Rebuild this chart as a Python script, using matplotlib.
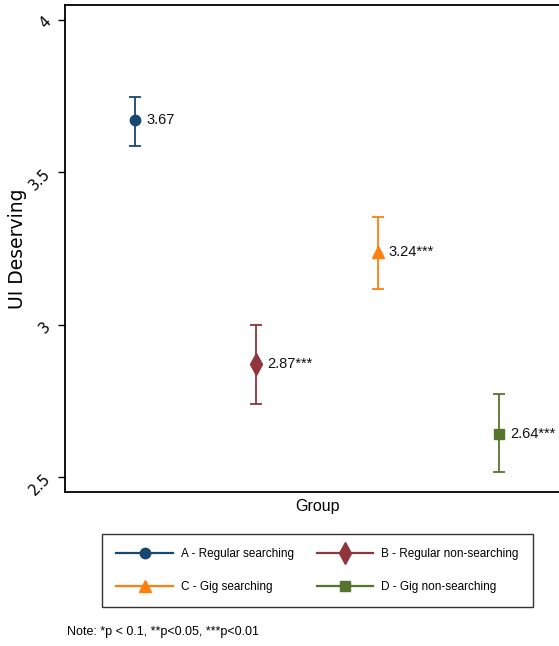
import matplotlib
matplotlib.use("Agg")
import matplotlib.pyplot as plt
from matplotlib.lines import Line2D

# group estimates with 95% confidence bounds
groups = ["A - Regular searching", "B - Regular non-searching",
          "C - Gig searching", "D - Gig non-searching"]
means = [3.67, 2.87, 3.24, 2.64]
ci_low = [3.585, 2.74, 3.118, 2.516]
ci_high = [3.748, 3.0, 3.353, 2.772]
stars = ["", "***", "***", "***"]
yticks = [2.5, 3, 3.5, 4]

colors = ["#1a476f", "#90353b", "#ff7f0e", "#55752f"]
markers = ["o", "d", "^", "s"]
msizes = [7.5, 11, 9, 7]

plt.rcParams["font.family"] = ["Liberation Sans", "DejaVu Sans"]

fig = plt.figure(figsize=(5.59, 6.46), dpi=100)
ax = fig.add_axes([0.1163, 0.2384, 0.9016, 0.7539])

for i, (m, lo, hi) in enumerate(zip(means, ci_low, ci_high)):
    x = i + 1
    ax.errorbar(x, m, yerr=[[m - lo], [hi - m]], fmt="none",
                ecolor=colors[i], elinewidth=1.3, capsize=4, capthick=1.3)
    ax.plot(x, m, marker=markers[i], color=colors[i], markersize=msizes[i],
            linestyle="none")
    ax.annotate(f"{m:.2f}{stars[i]}", (x, m), xytext=(8, 0),
                textcoords="offset points", va="center", ha="left",
                fontsize=10.5, color="#111111")

ax.set_xlim(0.423, 4.577)
ax.set_ylim(2.451, 4.049)
ax.set_xticks([])
ax.set_yticks(yticks)
ax.set_yticklabels([f"{t:g}" for t in yticks], rotation=45,
                   fontsize=10.5, family=["DejaVu Sans"])
ax.tick_params(axis="y", length=5, width=1, pad=3)
for side in ["left", "bottom", "top", "right"]:
    ax.spines[side].set_linewidth(1.3)

ax.set_xlabel("Group", fontsize=11.5, labelpad=5)
ax.set_ylabel("UI Deserving", fontsize=13.5, family=["DejaVu Sans"])
ax.yaxis.set_label_coords(-0.076, 0.5)

handles = [Line2D([0], [0], color=c, marker=mk, markersize=ms, lw=1.6)
           for c, mk, ms in zip(colors, markers, msizes)]
# row-major order: A, B on top row; C, D below
order = [0, 2, 1, 3]
leg = fig.legend([handles[k] for k in order], [groups[k] for k in order],
                 loc="center", bbox_to_anchor=(0.568, 0.117), ncol=2,
                 fontsize=8.5, frameon=True, fancybox=False,
                 edgecolor="black", handlelength=4.8, columnspacing=1.9,
                 borderpad=1.2, labelspacing=1.8, handletextpad=0.7)
leg.get_frame().set_linewidth(1.0)

fig.text(67 / 559, 1 - 632 / 646, "Note: *p < 0.1, **p<0.05, ***p<0.01",
         fontsize=9, va="center", ha="left")

fig.savefig("out.png", dpi=100)
